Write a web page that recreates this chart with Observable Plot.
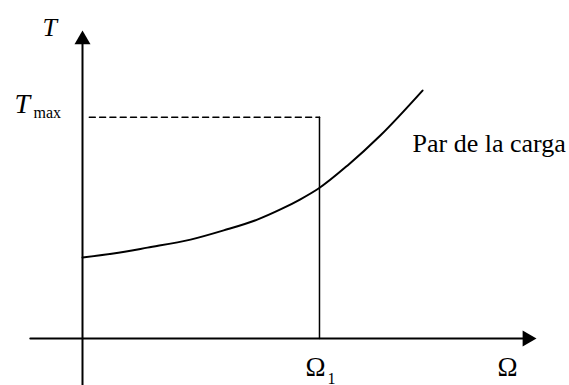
<!DOCTYPE html>
<html><head><meta charset="utf-8">
<script src="https://cdn.jsdelivr.net/npm/d3@7"></script>
<script src="https://cdn.jsdelivr.net/npm/@observablehq/plot@0.6"></script>
<style>body{margin:0;background:#fff}</style>
</head><body><div id="chart"></div>
<script>
// Load torque curve (arbitrary units)
const omega  = [0, 0.68, 1.43, 2.38, 3.11, 3.85, 4.36, 4.80, 5.20, 5.84, 6.56, 7.49];
const torque = [2.63, 2.76, 2.95, 3.21, 3.51, 3.86, 4.19, 4.52, 4.87, 5.62, 6.59, 8.05];
const omega1 = 5.22;
const tMax = 7.18;
const axisMax = 10;
const xAxisStart = -1.15;
const yAxisStart = -1.53;
const curveLabel = ["Par de la carga"];
const curveLabelPos = [7.27, 6.04];

const curve = omega.map((x, i) => ({x, y: torque[i]}));
const font = "'Liberation Serif','Times New Roman',serif";

const plot = Plot.plot({
  width: 569, height: 385, margin: 0,
  x: {domain: [0, 10], range: [82, 536], axis: null},
  y: {domain: [0, 10], range: [338, 30], axis: null},
  style: {fontFamily: font, background: "white", overflow: "visible"},
  marks: [
    // axes
    Plot.line([[xAxisStart, 0], [axisMax - 0.2, 0]], {x: d => d[0], y: d => d[1], stroke: "black", strokeWidth: 2}),
    Plot.line([[0, yAxisStart], [0, axisMax - 0.3]], {x: d => d[0], y: d => d[1], stroke: "black", strokeWidth: 2}),
    Plot.dot([[axisMax, 0]], {x: d => d[0], y: d => d[1], symbol: "triangle", r: 5.94, rotate: 90, dx: -9.24, fill: "black", stroke: "none"}),
    Plot.dot([[0, axisMax]], {x: d => d[0], y: d => d[1], symbol: "triangle", r: 5.94, dy: 9.24, fill: "black", stroke: "none"}),
    // Tmax dashed & Omega1 vertical
    Plot.line([[0.15, tMax], [omega1, tMax]], {x: d => d[0], y: d => d[1], stroke: "black", strokeWidth: 1.5, strokeDasharray: "6,4.3"}),
    Plot.line([[omega1, tMax], [omega1, 0]], {x: d => d[0], y: d => d[1], stroke: "black", strokeWidth: 1.5}),
    // curve
    Plot.line(curve, {x: "x", y: "y", curve: "monotone-x", stroke: "black", strokeWidth: 2}),
    // labels
    Plot.text([" "], {x: 0, y: 0, text: d => d, fontStyle: "italic", fontSize: 28, fill: "none"}),
    Plot.text(["T"], {x: 0, y: tMax, text: d => d, fontStyle: "italic", fontSize: 28, textAnchor: "start", lineAnchor: "bottom", dx: -68, dy: -4, fill: "black"}),
    Plot.text(["T"], {x: 0, y: axisMax, text: d => d, fontStyle: "italic", fontSize: 26, textAnchor: "start", lineAnchor: "bottom", dx: -40, dy: 5, fill: "black"}),
    Plot.text(["max"], {x: 0, y: tMax, text: d => d, fontSize: 16, textAnchor: "start", lineAnchor: "bottom", dx: -49, dy: 1, fill: "black"}),
    Plot.text(["Ω"], {x: omega1, y: 0, text: d => d, fontSize: 27, textAnchor: "start", lineAnchor: "bottom", dx: -14, dy: 37, fill: "black"}),
    Plot.text(["1"], {x: omega1, y: 0, text: d => d, fontSize: 16, textAnchor: "start", lineAnchor: "bottom", dx: 8, dy: 45, fill: "black"}),
    Plot.text(["Ω"], {x: axisMax, y: 0, text: d => d, fontSize: 27, textAnchor: "start", lineAnchor: "bottom", dx: -39, dy: 37, fill: "black"}),
    Plot.text(curveLabel, {x: curveLabelPos[0], y: curveLabelPos[1], text: d => d, fontSize: 26, textAnchor: "start", lineAnchor: "bottom", fill: "black"})
  ]
});
document.getElementById("chart").appendChild(plot);
</script>
</body></html>
